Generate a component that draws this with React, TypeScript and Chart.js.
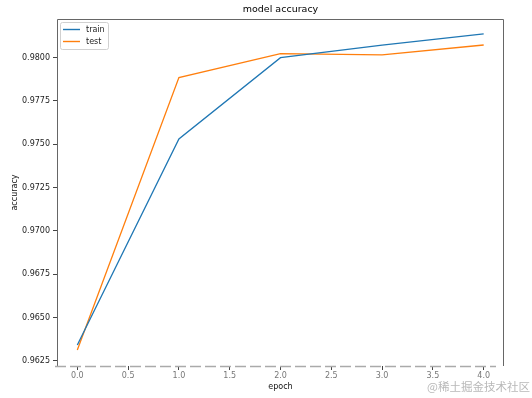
import { useEffect, useRef } from "react";
import { Chart, registerables } from "chart.js";

Chart.register(...registerables);

const epochs = [0, 1, 2, 3, 4];
const trainAcc = [0.96342, 0.97531, 0.98, 0.98072, 0.98137];
const testAcc = [0.96313, 0.97885, 0.98023, 0.98016, 0.98073];
const seriesNames = ["train", "test"];
const xTickStep = 0.5;
const yTickStep = 0.0025;
const chartTitle = "model accuracy";
const watermark = "@稀土掘金技术社区";

const FONT = "'DejaVu Sans', sans-serif";

const framePlugin = {
  id: "frame",
  afterDatasetsDraw(chart: any) {
    const { ctx, chartArea: a } = chart;
    ctx.save();
    ctx.lineWidth = 1;
    ctx.strokeStyle = "#666";
    ctx.beginPath();
    ctx.moveTo(a.left + 0.5, a.bottom);
    ctx.lineTo(a.left + 0.5, a.top + 0.5);
    ctx.lineTo(a.right - 0.5, a.top + 0.5);
    ctx.lineTo(a.right - 0.5, a.bottom);
    ctx.stroke();
    ctx.strokeStyle = "#aaa";
    ctx.lineWidth = 1.5;
    ctx.setLineDash([11, 4]);
    ctx.beginPath();
    ctx.moveTo(a.left - 2, a.bottom + 0.5);
    ctx.lineTo(a.right - 8, a.bottom + 0.5);
    ctx.stroke();
    ctx.setLineDash([]);

    // title
    ctx.fillStyle = "#000";
    ctx.font = `9.5px ${FONT}`;
    ctx.textAlign = "center";
    ctx.textBaseline = "middle";
    ctx.fillText(chartTitle, (a.left + a.right) / 2, 10);

    // legend
    const lx = a.left + 3;
    const ly = a.top + 3;
    const w = 48;
    const h = 27;
    ctx.fillStyle = "rgba(255,255,255,0.8)";
    ctx.strokeStyle = "#d0d0d0";
    ctx.lineWidth = 1;
    ctx.beginPath();
    (ctx as any).roundRect(lx + 0.5, ly + 0.5, w, h, 2);
    ctx.fill();
    ctx.stroke();
    chart.data.datasets.forEach((ds: any, i: number) => {
      const y = ly + 7.5 + i * 12;
      ctx.strokeStyle = ds.borderColor;
      ctx.lineWidth = 1.4;
      ctx.beginPath();
      ctx.moveTo(lx + 3, y);
      ctx.lineTo(lx + 20, y);
      ctx.stroke();
      ctx.fillStyle = "#222";
      ctx.font = `8px ${FONT}`;
      ctx.textBaseline = "middle";
      ctx.textAlign = "left";
      ctx.fillText(ds.label, lx + 26, y);
    });

    // watermark
    ctx.font = `11.5px 'Noto Sans CJK SC', sans-serif`;
    ctx.fillStyle = "rgba(160,160,160,0.75)";
    ctx.textAlign = "right";
    ctx.textBaseline = "middle";
    ctx.fillText(watermark, chart.width - 2, 387);
    ctx.restore();
  },
};

export default function App() {
  const ref = useRef<HTMLCanvasElement | null>(null);
  useEffect(() => {
    document.body.style.margin = "0";
    if (!ref.current) return;
    const chart = new Chart(ref.current, {
      type: "line",
      data: {
        datasets: [
          {
            label: seriesNames[0],
            data: epochs.map((e, i) => ({ x: e, y: trainAcc[i] })),
            borderColor: "#1f77b4",
            borderWidth: 1.3,
            pointRadius: 0,
            tension: 0,
            fill: false,
          },
          {
            label: seriesNames[1],
            data: epochs.map((e, i) => ({ x: e, y: testAcc[i] })),
            borderColor: "#ff7f0e",
            borderWidth: 1.3,
            pointRadius: 0,
            tension: 0,
            fill: false,
          },
        ],
      },
      options: {
        animation: false,
        responsive: false,
        devicePixelRatio: 1,
        layout: { padding: { left: 0, right: 28, top: 19, bottom: 0 } },
        plugins: {
          legend: { display: false },
          tooltip: { enabled: false },
          title: { display: false },
        },
        scales: {
          x: {
            type: "linear",
            min: -0.2,
            max: 4.2,
            afterFit: (s: any) => {
              s.height = 32;
            },
            border: { display: false },
            grid: { drawOnChartArea: false, tickLength: 4, color: "#444" },
            ticks: {
              stepSize: xTickStep,
              includeBounds: false,
              padding: 1,
              color: "#777",
              font: { family: FONT, size: 8 },
              maxRotation: 0,
              callback: (v: any) => Number(v).toFixed(1),
            },
            title: {
              display: true,
              text: "epoch",
              color: "#111",
              font: { family: FONT, size: 8 },
              padding: { top: 0, bottom: 6.2 },
            },
          },
          y: {
            min: 0.96221,
            max: 0.98223,
            afterFit: (s: any) => {
              s.width = 57;
            },
            border: { display: false },
            grid: { drawOnChartArea: false, tickLength: 4, color: "#444" },
            ticks: {
              stepSize: yTickStep,
              includeBounds: false,
              padding: 3,
              color: "#222",
              font: { family: FONT, size: 8 },
              callback: (v: any) => Number(v).toFixed(4),
            },
            title: {
              display: true,
              text: "accuracy",
              color: "#111",
              font: { family: FONT, size: 8 },
              padding: { top: 10, bottom: 0 },
            },
          },
        },
      },
      plugins: [framePlugin],
    });
    return () => chart.destroy();
  }, []);
  return (
    <canvas ref={ref} width={532} height={398} style={{ display: "block", width: 532, height: 398 }} />
  );
}
